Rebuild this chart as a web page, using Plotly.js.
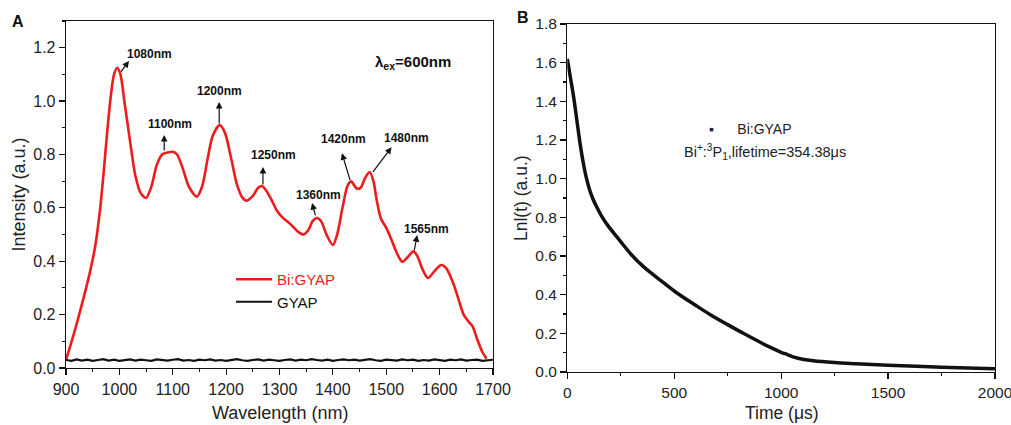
<!DOCTYPE html>
<html>
<head>
<meta charset="utf-8">
<script src="https://cdn.plot.ly/plotly-3.0.1.min.js"></script>
<style>html,body{margin:0;padding:0;background:#fff;}#chart{width:1011px;height:425px;}</style>
</head>
<body>
<div id="chart"></div>
<script>
// Panel A: emission spectrum
const wlBi = [900,915,930,945,955,963,970,977,984,990,996,1002,1010,1020,1030,1040,1050,1060,1070,1080,1090,1100,1108,1120,1130,1145,1155,1165,1175,1188,1198,1210,1220,1230,1238,1250,1260,1267,1275,1285,1295,1305,1320,1335,1345,1355,1362,1370,1378,1388,1400,1408,1418,1427,1434,1445,1452,1460,1469,1476,1482,1490,1500,1510,1520,1530,1540,1551,1558,1568,1578,1590,1603,1612,1625,1635,1645,1655,1662,1670,1680,1688];
const intBi = [0.03,0.13,0.24,0.36,0.46,0.58,0.72,0.88,1.02,1.10,1.125,1.10,0.99,0.85,0.72,0.655,0.637,0.68,0.76,0.80,0.807,0.81,0.80,0.74,0.68,0.642,0.68,0.78,0.87,0.91,0.88,0.78,0.69,0.64,0.627,0.645,0.675,0.682,0.665,0.63,0.59,0.565,0.54,0.51,0.50,0.52,0.55,0.562,0.55,0.50,0.461,0.50,0.60,0.68,0.699,0.672,0.675,0.71,0.734,0.70,0.63,0.56,0.525,0.48,0.43,0.398,0.415,0.437,0.42,0.37,0.337,0.362,0.386,0.375,0.32,0.26,0.20,0.172,0.155,0.11,0.06,0.035];
const wlG = [900,910,920,930,940,950,960,970,980,990,1000,1010,1020,1030,1040,1050,1060,1070,1080,1090,1100,1110,1120,1130,1140,1150,1160,1170,1180,1190,1200,1210,1220,1230,1240,1250,1260,1270,1280,1290,1300,1310,1320,1330,1340,1350,1360,1370,1380,1390,1400,1410,1420,1430,1440,1450,1460,1470,1480,1490,1500,1510,1520,1530,1540,1550,1560,1570,1580,1590,1600,1610,1620,1630,1640,1650,1660,1670,1680,1690,1700];
const intG = [0.030,0.027,0.032,0.028,0.031,0.027,0.030,0.033,0.028,0.031,0.027,0.030,0.032,0.028,0.031,0.029,0.027,0.032,0.030,0.028,0.031,0.033,0.028,0.030,0.027,0.031,0.029,0.032,0.028,0.030,0.027,0.031,0.033,0.029,0.027,0.030,0.032,0.028,0.031,0.029,0.027,0.030,0.032,0.028,0.031,0.029,0.033,0.030,0.028,0.031,0.027,0.030,0.032,0.029,0.031,0.028,0.030,0.033,0.029,0.027,0.031,0.030,0.028,0.032,0.029,0.031,0.027,0.030,0.028,0.032,0.030,0.027,0.031,0.029,0.032,0.028,0.030,0.031,0.027,0.030,0.031];
const peakLabels = ['1080nm','1100nm','1200nm','1250nm','1360nm','1420nm','1480nm','1565nm'];
const arrowTailX = [1001,1084,1187,1269,1368,1433,1473,1552];
const arrowTailY = [1.105,0.809,0.910,0.682,0.566,0.698,0.729,0.436];
const arrowHeadX = [1018,1084,1187,1269,1361,1417,1510,1558];
const arrowHeadY = [1.150,0.873,0.997,0.753,0.618,0.805,0.827,0.498];
const labelX = [1057,1094,1187,1288,1373,1420,1537,1576];
const labelY = [1.178,0.914,1.036,0.799,0.648,0.858,0.860,0.521];

// Panel B: decay curve
const tB = [0,15,30,45,60,75,90,105,120,140,161,190,231,265,301,356,400,450,511,600,667,750,823,900,950,1000,1030,1060,1100,1150,1250,1350,1500,1750,2000];
const lnB = [1.62,1.52,1.42,1.30,1.18,1.08,1.00,0.94,0.895,0.848,0.805,0.757,0.70,0.653,0.605,0.545,0.505,0.462,0.41,0.345,0.298,0.245,0.20,0.155,0.127,0.102,0.09,0.077,0.066,0.058,0.049,0.043,0.035,0.025,0.017];

const FONT = 'Arial, "Liberation Sans", sans-serif';
const TXT = '#222';

function axisBase(extra){
  return Object.assign({
    showline:true, linecolor:'#111', linewidth:1.3, mirror:true,
    ticks:'outside', ticklen:6, tickwidth:1.2, tickcolor:'#111',
    showgrid:false, zeroline:false, ticklabeloverflow:'allow',
    tickfont:{family:FONT, size:16, color:TXT}
  }, extra);
}
function minorTicks(d){
  return {ticks:'outside', ticklen:3, tickwidth:1.1, tickcolor:'#111', dtick:d, showgrid:false};
}

const traces = [
  {x:wlBi, y:intBi, type:'scatter', mode:'lines', name:'<span style="color:#ec1c1c">Bi:GYAP</span>',
   line:{color:'#ec1c1c', width:2.6, shape:'spline', smoothing:0.8}, xaxis:'x', yaxis:'y'},
  {x:wlG, y:intG, type:'scatter', mode:'lines', name:'GYAP',
   line:{color:'#111', width:2.2}, xaxis:'x', yaxis:'y'},
  {x:tB, y:lnB, type:'scatter', mode:'lines', name:'Bi:GYAP decay', showlegend:false,
   line:{color:'#111', width:3.5, shape:'spline', smoothing:1}, xaxis:'x2', yaxis:'y2'}
];

const annotations = [];
for (let i=0;i<peakLabels.length;i++){
  annotations.push({xref:'x', yref:'y', axref:'x', ayref:'y', x:arrowHeadX[i], y:arrowHeadY[i],
    ax:arrowTailX[i], ay:arrowTailY[i], text:'', showarrow:true, arrowhead:2, arrowsize:1.1,
    arrowwidth:1.2, arrowcolor:'#111', standoff:0, startstandoff:0});
  annotations.push({xref:'x', yref:'y', x:labelX[i], y:labelY[i], text:'<b>'+peakLabels[i]+'</b>',
    xanchor:'center', yanchor:'middle', showarrow:false, font:{family:FONT, size:12, color:'#111'}});
}
function paperText(px, py, text, size, extra){
  return Object.assign({xref:'paper', yref:'paper', x:px/1011, y:1-py/425, text:text,
    xanchor:'center', yanchor:'middle', showarrow:false, font:{family:FONT, size:size, color:TXT}}, extra||{});
}
annotations.push(
  {xref:'x', yref:'y', x:1550, y:1.143, text:'<b>λ<sub>ex</sub>=600nm</b>', showarrow:false,
   xanchor:'center', yanchor:'middle', font:{family:FONT, size:15, color:'#111'}},
  paperText(18, 21, '<b>A</b>', 16, {font:{family:FONT, size:16, color:'#111'}}),
  paperText(523, 17, '<b>B</b>', 16, {font:{family:FONT, size:16, color:'#111'}}),
  paperText(280, 413, 'Wavelength (nm)', 18),
  paperText(18, 194.5, 'Intensity (a.u.)', 18, {textangle:-90}),
  paperText(782, 413, 'Time (μs)', 17.5),
  paperText(521, 198, 'Lnl(t) (a.u.)', 17.5, {textangle:-90}),
  paperText(750, 129, '▪      Bi:GYAP', 14),
  paperText(765, 152, 'Bi<sup>+</sup>:<sup>3</sup>P<sub>1</sub>,lifetime=354.38μs', 14.5)
);

const layout = {
  width:1011, height:425,
  margin:{l:0, r:0, t:0, b:0},
  paper_bgcolor:'#fff', plot_bgcolor:'#fff',
  font:{family:FONT, color:TXT},
  xaxis: axisBase({domain:[66/1011, 493/1011], range:[900,1700], dtick:100, tick0:900, anchor:'y',
    minor:minorTicks(50)}),
  yaxis: axisBase({domain:[57/425, 404/425], range:[0,1.3], dtick:0.2, tick0:0, tickformat:'.1f', anchor:'x',
    minor:minorTicks(0.1)}),
  xaxis2: axisBase({domain:[567.3/1011, 995/1011], range:[0,2000], dtick:500, tick0:0, anchor:'y2',
    tickfont:{family:FONT, size:15.5, color:TXT}, minor:minorTicks(250)}),
  yaxis2: axisBase({domain:[53/425, 401/425], range:[0,1.8], dtick:0.2, tick0:0, tickformat:'.1f', anchor:'x2',
    tickfont:{family:FONT, size:15.5, color:TXT}, minor:minorTicks(0.1)}),
  showlegend:true,
  legend:{x:231/1011, y:1-263/425, xanchor:'left', yanchor:'top', bgcolor:'rgba(0,0,0,0)',
    font:{family:FONT, size:15, color:'#111'}, tracegroupgap:0, itemwidth:36},
  annotations: annotations
};

Plotly.newPlot('chart', traces, layout, {staticPlot:true, displayModeBar:false});
</script>
</body>
</html>
